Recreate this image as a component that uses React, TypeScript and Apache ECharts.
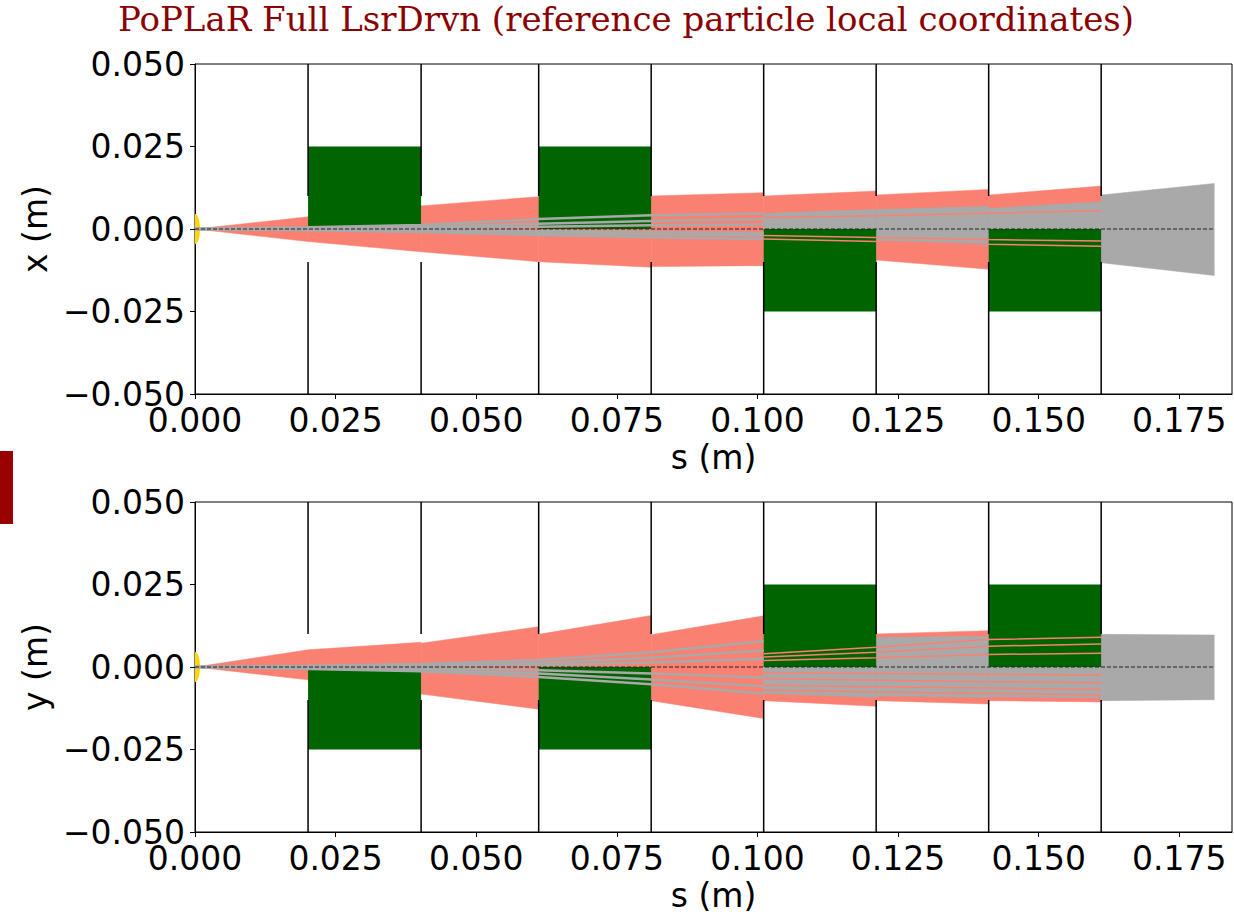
import React, { useEffect, useRef } from "react";
import * as echarts from "echarts";

const titleText = "PoPLaR Full LsrDrvn (reference particle local coordinates)";
const sTickStep = 0.025;
const transTickStep = 0.025;

// element boundaries along s (m)
const sNodes = [0, 0.0201, 0.0402, 0.0611, 0.0811, 0.1011, 0.1211, 0.1411, 0.1611, 0.1812];
const apertureS = [0.0201, 0.0402, 0.0611, 0.0811, 0.1011, 0.1211, 0.1411, 0.1611];
const apertureHalf = 0.01;
const quadStart = [0.0201, 0.0611, 0.1011, 0.1411];
const quadEnd = [0.0402, 0.0811, 0.1211, 0.1611];
const quadHalf = 0.025;
const quadSignX = [1, 1, -1, -1];
const quadSignY = [-1, -1, 1, 1];

// ---- x plane: salmon envelope per segment (start / end) ----
const xSalTop0 = [0, 0.0037, 0.007, 0.0098, 0.01, 0.01, 0.0103, 0.0103, null];
const xSalTop1 = [0.0037, 0.007, 0.0098, 0.01, 0.011, 0.0115, 0.012, 0.013, null];
const xSalBot0 = [0, -0.0038, -0.0069, -0.0099, -0.0114, -0.01, -0.0094, -0.01, null];
const xSalBot1 = [-0.0038, -0.0069, -0.0099, -0.0116, -0.0111, -0.01, -0.0122, -0.011, null];
// x plane: grey band per segment
const xGryTop0 = [null, null, null, null, null, 0.0047, 0.0062, 0.0062, 0.0103];
const xGryTop1 = [null, null, null, null, null, 0.0062, 0.007, 0.0083, 0.0138];
const xGryBot0 = [null, null, null, null, null, -0.003, -0.0035, -0.003, -0.0102];
const xGryBot1 = [null, null, null, null, null, -0.003, -0.005, -0.003, -0.0141];
// x plane: grey tracks at sNodes[0..5]
const xGray1 = [0, 0.0005, 0.0012, 0.003, 0.0042, 0.0047];
const xGray2 = [0, 0.0003, 0.0007, 0.0016, 0.0024, 0.003];
const xGray3 = [0, 0.0001, 0.0003, 0.0007, 0.0011, 0.0014];
const xGray4 = [0, -0.0001, -0.0003, -0.0006, -0.0009, -0.0012];
const xGray5 = [0, -0.0002, -0.0005, -0.0011, -0.0016, -0.002];
const xGray6 = [0, -0.0004, -0.0009, -0.0018, -0.0025, -0.003];
// x plane: salmon tracks at sNodes[5..8]
const xSal1 = [0.0052, 0.0062, 0.0072, 0.0085];
const xSal2 = [0.0035, 0.004, 0.0048, 0.0055];
const xSal3 = [-0.003, -0.0038, -0.0046, -0.0052];
const xSal4 = [-0.002, -0.0026, -0.0032, -0.0036];

// ---- y plane ----
const ySalTop0 = [0, 0.0052, 0.0072, 0.0099, 0.0098, 0.01, 0.01, 0.01, null];
const ySalTop1 = [0.0052, 0.0075, 0.0122, 0.0156, 0.0155, 0.01, 0.011, 0.01, null];
const ySalBot0 = [0, -0.0039, -0.0082, -0.01, -0.0102, -0.0102, -0.0102, -0.0102, null];
const ySalBot1 = [-0.0039, -0.006, -0.0128, -0.01, -0.0156, -0.0119, -0.0112, -0.0106, null];
const yGryTop0 = [null, null, null, null, null, 0.004, 0.009, 0.005, 0.0099];
const yGryTop1 = [null, null, null, null, null, 0.004, 0.0093, 0.005, 0.0097];
const yGryBot0 = [null, null, null, null, null, -0.008, -0.0088, -0.009, -0.0102];
const yGryBot1 = [null, null, null, null, null, -0.0092, -0.0092, -0.0094, -0.0099];
const yGray1 = [0, 0.0004, 0.0009, 0.0021, 0.0045, 0.0078];
const yGray2 = [0, 0.0002, 0.0005, 0.0012, 0.0028, 0.005];
const yGray3 = [0, 0.0001, 0.0002, 0.0006, 0.0014, 0.0025];
const yGray4 = [0, -0.0002, -0.0004, -0.001, -0.002, -0.0032];
const yGray5 = [0, -0.0004, -0.0009, -0.002, -0.0038, -0.0058];
const yGray6 = [0, -0.0006, -0.0013, -0.003, -0.0052, -0.008];
const ySal1 = [0.004, 0.006, 0.0083, 0.009];
const ySal2 = [0.003, 0.0045, 0.0063, 0.007];
const ySal3 = [0.002, 0.0028, 0.0038, 0.0042];
const ySal4 = [-0.0018, -0.002, -0.0022, -0.0024];
const ySal5 = [-0.0035, -0.004, -0.0045, -0.0048];
const ySal6 = [-0.0055, -0.006, -0.0064, -0.0068];
const ySal7 = [-0.007, -0.0076, -0.008, -0.0085];

const SALMON = "#fa8072";
const GREY = "#a9a9a9";
const GREEN = "#006400";
const GOLD = "#ffd700";
const FONT = "DejaVu Sans";

function fmt(v: number): string {
  if (Math.abs(v) < 1e-12) return "0.000";
  const s = Math.abs(v).toFixed(3);
  return v < 0 ? "\u2212" + s : s;
}

function onStep(v: number, step: number) {
  const k = Math.round(v / step);
  return Math.abs(v - k * step) < 1e-9;
}

function bandSeries(g: number, t0: any[], t1: any[], b0: any[], b1: any[], color: string) {
  const data: number[][] = [];
  for (let i = 0; i < sNodes.length - 1; i++) {
    if (t0[i] === null) continue;
    data.push([sNodes[i], sNodes[i + 1], t0[i], t1[i], b0[i], b1[i]]);
  }
  return {
    type: "custom",
    xAxisIndex: g,
    yAxisIndex: g,
    clip: true,
    silent: true,
    data,
    renderItem: (params: any, api: any) => {
      const s0 = api.value(0), s1 = api.value(1);
      const pts = [
        api.coord([s0, api.value(2)]),
        api.coord([s1, api.value(3)]),
        api.coord([s1, api.value(5)]),
        api.coord([s0, api.value(4)]),
      ];
      return { type: "polygon", shape: { points: pts }, style: { fill: color, stroke: color, lineWidth: 0.5 } };
    },
  };
}

function trackSeries(g: number, vals: number[], startNode: number, color: string, width: number) {
  return {
    type: "line",
    xAxisIndex: g,
    yAxisIndex: g,
    silent: true,
    symbol: "none",
    data: vals.map((v, i) => [sNodes[startNode + i], v]),
    lineStyle: { color, width },
  };
}

function quadSeries(g: number, signs: number[]) {
  return {
    type: "custom",
    xAxisIndex: g,
    yAxisIndex: g,
    clip: true,
    silent: true,
    data: quadStart.map((s, i) => [s, quadEnd[i], signs[i] * quadHalf]),
    renderItem: (params: any, api: any) => {
      const a = api.coord([api.value(0), api.value(2)]);
      const b = api.coord([api.value(1), 0]);
      return {
        type: "rect",
        shape: { x: a[0], y: Math.min(a[1], b[1]), width: b[0] - a[0], height: Math.abs(b[1] - a[1]) },
        style: { fill: GREEN },
      };
    },
  };
}

function apertureSeries(g: number) {
  return {
    type: "custom",
    xAxisIndex: g,
    yAxisIndex: g,
    clip: true,
    silent: true,
    data: apertureS.map((s) => [s, apertureHalf]),
    renderItem: (params: any, api: any) => {
      const s = api.value(0), h = api.value(1);
      const p1 = api.coord([s, h]), p2 = api.coord([s, 0.06]);
      const p3 = api.coord([s, -h]), p4 = api.coord([s, -0.06]);
      return {
        type: "group",
        children: [
          { type: "line", shape: { x1: p1[0], y1: p1[1], x2: p2[0], y2: p2[1] }, style: { stroke: "#000", lineWidth: 1.5 } },
          { type: "line", shape: { x1: p3[0], y1: p3[1], x2: p4[0], y2: p4[1] }, style: { stroke: "#000", lineWidth: 1.5 } },
        ],
      };
    },
  };
}

function refSeries(g: number) {
  return [
    {
      type: "line",
      xAxisIndex: g,
      yAxisIndex: g,
      silent: true,
      symbol: "none",
      data: [[sNodes[0], 0], [sNodes[sNodes.length - 1], 0]],
      lineStyle: { color: "#222", width: 1, type: [4, 2] },
    },
    {
      type: "custom",
      xAxisIndex: g,
      yAxisIndex: g,
      clip: true,
      silent: true,
      data: [[0, 0]],
      renderItem: (params: any, api: any) => {
        const c = api.coord([api.value(0), api.value(1)]);
        return { type: "ellipse", shape: { cx: c[0], cy: c[1], rx: 5, ry: 15 }, style: { fill: GOLD } };
      },
    },
  ];
}

function xAxisCfg(g: number) {
  return {
    type: "value",
    gridIndex: g,
    min: 0,
    max: 0.18436,
    interval: sTickStep,
    name: "s (m)",
    nameLocation: "middle",
    nameGap: 47,
    nameTextStyle: { fontFamily: FONT, fontSize: 33, color: "#000" },
    axisLine: { show: true, onZero: false, lineStyle: { color: "#000", width: 1 } },
    axisTick: { show: true, length: 5, lineStyle: { color: "#000", width: 1 } },
    splitLine: { show: false },
    axisLabel: {
      margin: 10,
      fontFamily: FONT,
      fontSize: 33,
      color: "#000",
      showMaxLabel: false,
      formatter: (v: number) => (onStep(v, sTickStep) ? fmt(v) : ""),
    },
  };
}

function yAxisCfg(g: number, name: string) {
  return {
    type: "value",
    gridIndex: g,
    min: -0.05,
    max: 0.05,
    interval: transTickStep,
    name,
    nameLocation: "middle",
    nameRotate: 90,
    nameGap: 140,
    nameTextStyle: { fontFamily: FONT, fontSize: 33, color: "#000" },
    axisLine: { show: true, onZero: false, lineStyle: { color: "#000", width: 1 } },
    axisTick: { show: true, length: 5, lineStyle: { color: "#000", width: 1 } },
    splitLine: { show: false },
    axisLabel: { margin: 10, fontFamily: FONT, fontSize: 33, color: "#000", formatter: (v: number) => fmt(v) },
  };
}

function planeSeries(g: number, p: any) {
  const out: any[] = [];
  out.push(bandSeries(g, p.salT0, p.salT1, p.salB0, p.salB1, SALMON));
  p.grayTracks.forEach((t: number[]) => out.push(trackSeries(g, t, 0, GREY, 2.5)));
  out.push(bandSeries(g, p.gryT0, p.gryT1, p.gryB0, p.gryB1, GREY));
  p.salTracks.forEach((t: number[]) => out.push(trackSeries(g, t, 5, SALMON, 1.5)));
  out.push(quadSeries(g, p.signs));
  out.push(apertureSeries(g));
  out.push(...refSeries(g));
  return out;
}

export default function App() {
  const ref = useRef<HTMLDivElement>(null);
  useEffect(() => {
    if (!ref.current) return;
    const chart = echarts.init(ref.current, null, { renderer: "svg" });
    const series = [
      ...planeSeries(0, {
        salT0: xSalTop0, salT1: xSalTop1, salB0: xSalBot0, salB1: xSalBot1,
        gryT0: xGryTop0, gryT1: xGryTop1, gryB0: xGryBot0, gryB1: xGryBot1,
        grayTracks: [xGray1, xGray2, xGray3, xGray4, xGray5, xGray6],
        salTracks: [xSal1, xSal2, xSal3, xSal4],
        signs: quadSignX,
      }),
      ...planeSeries(1, {
        salT0: ySalTop0, salT1: ySalTop1, salB0: ySalBot0, salB1: ySalBot1,
        gryT0: yGryTop0, gryT1: yGryTop1, gryB0: yGryBot0, gryB1: yGryBot1,
        grayTracks: [yGray1, yGray2, yGray3, yGray4, yGray5, yGray6],
        salTracks: [ySal1, ySal2, ySal3, ySal4, ySal5, ySal6, ySal7],
        signs: quadSignY,
      }),
    ];
    chart.setOption({
      animation: false,
      backgroundColor: "#fff",
      grid: [
        { left: 195, top: 64, width: 1037, height: 330, show: true, borderColor: "#000", borderWidth: 1, backgroundColor: "transparent" },
        { left: 195, top: 502, width: 1037, height: 330, show: true, borderColor: "#000", borderWidth: 1, backgroundColor: "transparent" },
      ],
      xAxis: [xAxisCfg(0), xAxisCfg(1)],
      yAxis: [yAxisCfg(0, "x (m)"), yAxisCfg(1, "y (m)")],
      graphic: [
        {
          type: "text",
          x: 626,
          y: 2,
          style: { text: titleText, fontFamily: "DejaVu Serif", fontSize: 34, fill: "#8b0000", align: "center", verticalAlign: "top" },
        },
        { type: "rect", shape: { x: 0, y: 451, width: 13, height: 73 }, style: { fill: "#990000" } },
      ],
      series,
    });
    return () => chart.dispose();
  }, []);
  return <div ref={ref} style={{ width: 1234, height: 917, position: "absolute", left: 0, top: 0 }} />;
}
